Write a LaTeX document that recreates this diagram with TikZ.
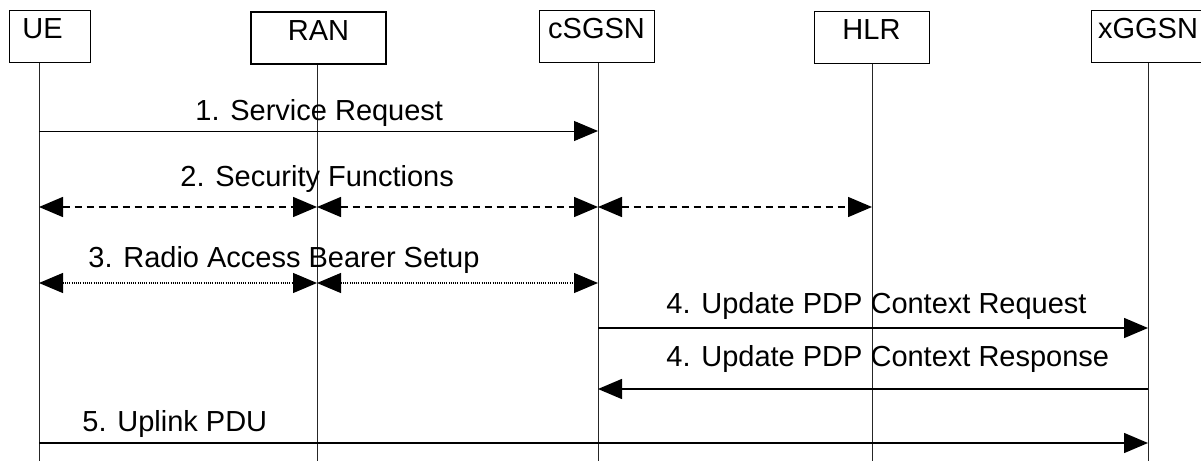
\documentclass[tikz,border=0pt]{standalone}
\usepackage{fontspec}
\setmainfont{Liberation Sans}
\usepackage{tikz}
\usetikzlibrary{arrows.meta,positioning,calc}
\tikzset{
  >={Triangle[length=12pt,width=10pt]},
  ent/.style={draw, line width=0.5pt, inner xsep=0pt, inner ysep=0pt, text height=14pt, text depth=12pt,
              minimum height=26pt, align=center, font=\fontsize{14.5pt}{17pt}\selectfont},
  life/.style={line width=0.5pt, black!85},
  msg/.style={->, line width=0.75pt},
  both/.style={<->, line width=0.75pt, dash pattern=on 3.5pt off 2.5pt},
  rab/.style={<->, line width=0.6pt, dash pattern=on 0.5pt off 0.6pt},
  lbl/.style={anchor=base west, inner sep=0pt, font=\fontsize{14.5pt}{17pt}\selectfont},
}
\begin{document}
\begin{tikzpicture}[x=0.5pt,y=-0.5pt]
  \useasboundingbox (0,0) rectangle (1201,461);
  \node[ent, text width=27.5pt, inner xsep=6.5pt, align=left, anchor=north west] (ue) at (9,10) {UE};
  \node[ent, line width=1pt, minimum width=67.5pt, anchor=north] (ran) at (318.5,11) {RAN};
  \node[ent, minimum width=57.5pt, anchor=north] (sgsn) at (596.5,10) {cSGSN};
  \node[ent, minimum width=57.5pt, anchor=north] (hlr) at (871.5,11) {HLR};
  \node[ent, minimum width=57pt, anchor=north] (ggsn) at (1148,10) {xGGSN};
  \coordinate (ueB) at (39,461);
  \coordinate (ranB) at (317,461);
  \coordinate (sgsnB) at (598,461);
  \coordinate (hlrB) at (872,461);
  \coordinate (ggsnB) at (1148,461);
  \draw[life] (ue.south -| ueB) -- (ueB);
  \draw[life] (ran.south -| ranB) -- (ranB);
  \draw[life] (sgsn.south -| sgsnB) -- (sgsnB);
  \draw[life] (hlr.south -| hlrB) -- (hlrB);
  \draw[life] (ggsn.south -| ggsnB) -- (ggsnB);
  \coordinate (m1) at (0,131);
  \coordinate (m2) at (0,207);
  \coordinate (m3) at (0,283);
  \coordinate (m4) at (0,328);
  \coordinate (m5) at (0,389);
  \coordinate (m6) at (0,443);
  \node[lbl] (t1) at (195,120) {1. Service Request};
  \node[lbl] (t2) at (180,186) {2. Security Functions};
  \node[lbl] (t3) at (88,267) {3. Radio Access Bearer Setup};
  \node[lbl] (t4) at (666,313) {4. Update PDP Context Request};
  \node[lbl] (t5) at (666,366) {4. Update PDP Context Response};
  \node[lbl] (t6) at (82,431) {5. Uplink PDU};
  \draw[msg, line width=0.5pt] (ueB |- m1) -- (sgsnB |- m1);
  \draw[both] (ueB |- m2) -- (ranB |- m2);
  \draw[both] (ranB |- m2) -- (sgsnB |- m2);
  \draw[both] (sgsnB |- m2) -- (hlrB |- m2);
  \draw[rab] (ueB |- m3) -- (ranB |- m3);
  \draw[rab] (ranB |- m3) -- (sgsnB |- m3);
  \draw[msg] (sgsnB |- m4) -- (ggsnB |- m4);
  \draw[msg] (ggsnB |- m5) -- (sgsnB |- m5);
  \draw[msg] (ueB |- m6) -- (ggsnB |- m6);
\end{tikzpicture}
\end{document}
